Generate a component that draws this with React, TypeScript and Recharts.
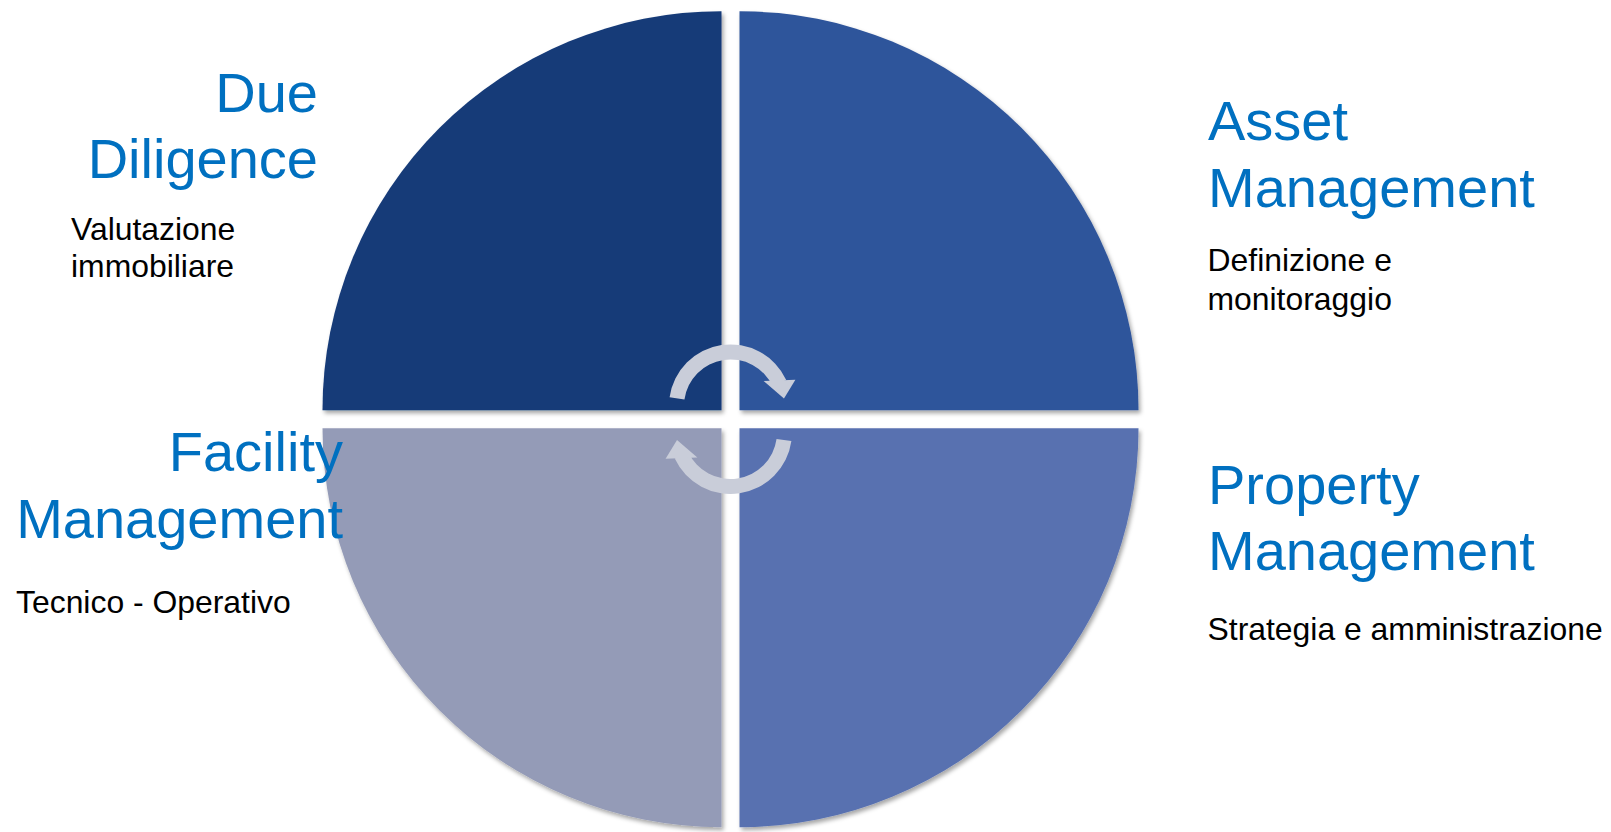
import React from 'react';
import { PieChart, Pie, Sector, Cell } from 'recharts';

// ---- data ----
const categories = ['Due Diligence', 'Asset Management', 'Property Management', 'Facility Management'];
const shares = [25, 25, 25, 25];
const titleLines = [
  ['Due', 'Diligence'],
  ['Asset', 'Management'],
  ['Property', 'Management'],
  ['Facility', 'Management'],
];
const subtitleLines = [
  ['Valutazione', 'immobiliare'],
  ['Definizione e', 'monitoraggio'],
  ['Strategia e amministrazione'],
  ['Tecnico - Operativo'],
];
const sliceColors = ['#153A78', '#2E549B', '#5871B0', '#949BB7'];
// cycle arrows: arc spans / gaps (degrees)
const arrowSpans = [148, 32, 148, 32];

// ---- layout ----
const W = 1611;
const H = 832;
const CX = 730.5;
const CY = 419.2;
const R = 399;
const EXPLODE = 9 * Math.SQRT2;
const ARROW_OFFSET = 13.3;
const TITLE_COLOR = '#0070C0';
const FONT = '"Liberation Sans", Arial, Helvetica, sans-serif';

const labelLayout = [
  { tAnchor: 'end', tx: 318, ty: [111.5, 178], sAnchor: 'start', sx: 71, sy: [239.5, 277] },
  { tAnchor: 'start', tx: 1208, ty: [140, 206.5], sAnchor: 'start', sx: 1207.5, sy: [271, 309.5] },
  { tAnchor: 'start', tx: 1208, ty: [504, 570], sAnchor: 'start', sx: 1207.5, sy: [639.5] },
  { tAnchor: 'end', tx: 343, ty: [471, 538], sAnchor: 'start', sx: 16, sy: [612.5] },
];

const pieData = categories.map((name, i) => ({ name, value: shares[i] }));
const arrowData = arrowSpans.map((v, i) => ({ name: i % 2 === 0 ? 'arrow' : 'gap', value: v }));

const RAD = Math.PI / 180;

const SliceShape = (props: any) => {
  const { cx, cy, innerRadius, outerRadius, startAngle, endAngle, fill, index } = props;
  const mid = (startAngle + endAngle) / 2;
  const dx = EXPLODE * Math.cos(mid * RAD);
  const dy = -EXPLODE * Math.sin(mid * RAD);
  return (
    <g>
      {index === 0 && (
        <defs>
          <filter id="sliceShadow" x="-10%" y="-10%" width="120%" height="120%">
            <feDropShadow dx="2" dy="3" stdDeviation="2.2" floodColor="#000" floodOpacity="0.35" />
          </filter>
        </defs>
      )}
      <Sector
        cx={cx + dx}
        cy={cy + dy}
        innerRadius={innerRadius}
        outerRadius={outerRadius}
        startAngle={startAngle}
        endAngle={endAngle}
        fill={fill}
        stroke="none"
        filter="url(#sliceShadow)"
      />
    </g>
  );
};

const polar = (cx: number, cy: number, r: number, a: number) => [cx + r * Math.cos(a * RAD), cy - r * Math.sin(a * RAD)];

const ArrowShape = (props: any) => {
  const { cx, cy, innerRadius, outerRadius, startAngle, endAngle, index } = props;
  if (index % 2 === 1) return <g />;
  const mid = (startAngle + endAngle) / 2;
  const acy = cy - ARROW_OFFSET * Math.sign(Math.sin(mid * RAD));
  const e = endAngle;
  const midR = (innerRadius + outerRadius) / 2;
  const p1 = polar(cx, acy, innerRadius - 5, e + 13);
  const p2 = polar(cx, acy, outerRadius + 8.5, e - 2);
  const p3 = polar(cx, acy, midR, e - 16);
  return (
    <g>
      <Sector
        cx={cx}
        cy={acy}
        innerRadius={innerRadius}
        outerRadius={outerRadius}
        startAngle={startAngle}
        endAngle={e + 1}
        fill="#C9CDD9"
        stroke="none"
      />
      <polygon points={`${p1[0]},${p1[1]} ${p2[0]},${p2[1]} ${p3[0]},${p3[1]}`} fill="#C9CDD9" />
    </g>
  );
};

const renderLabel = (props: any) => {
  const { index } = props;
  const L = labelLayout[index];
  return (
    <g key={`lbl-${index}`}>
      {titleLines[index].map((t, j) => (
        <text
          key={`t${j}`}
          x={L.tx}
          y={L.ty[j]}
          textAnchor={L.tAnchor as any}
          fill={TITLE_COLOR}
          fontSize={56}
          fontFamily={FONT}
        >
          {t}
        </text>
      ))}
      {subtitleLines[index].map((t, j) => (
        <text
          key={`s${j}`}
          x={L.sx}
          y={L.sy[j]}
          textAnchor={L.sAnchor as any}
          fill="#000000"
          fontSize={31.9}
          fontFamily={FONT}
        >
          {t}
        </text>
      ))}
    </g>
  );
};

export default function App() {
  return (
    <div style={{ position: 'absolute', left: 0, top: 0, width: W, height: H, background: '#ffffff' }}>
      <PieChart width={W} height={H} margin={{ top: 0, right: 0, bottom: 0, left: 0 }}>
        <Pie
          data={pieData}
          dataKey="value"
          nameKey="name"
          cx={CX}
          cy={CY}
          innerRadius={0}
          outerRadius={R}
          startAngle={180}
          endAngle={-180}
          stroke="none"
          shape={SliceShape}
          activeShape={SliceShape}
          inactiveShape={SliceShape}
          label={renderLabel}
          labelLine={false}
          isAnimationActive={false}
        >
          {pieData.map((d, i) => (
            <Cell key={d.name} fill={sliceColors[i]} />
          ))}
        </Pie>
        <Pie
          data={arrowData}
          dataKey="value"
          nameKey="name"
          cx={CX}
          cy={CY}
          innerRadius={46.5}
          outerRadius={61.5}
          startAngle={172}
          endAngle={-188}
          stroke="none"
          shape={ArrowShape}
          activeShape={ArrowShape}
          inactiveShape={ArrowShape}
          labelLine={false}
          isAnimationActive={false}
        />
      </PieChart>
    </div>
  );
}
